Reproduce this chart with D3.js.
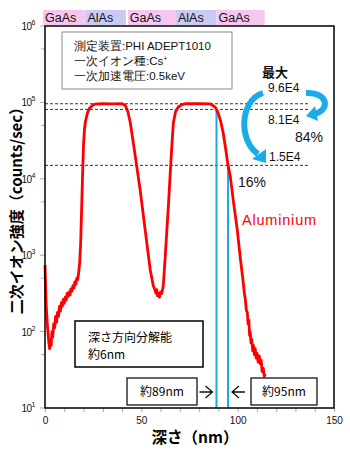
<!DOCTYPE html>
<html>
<head>
<meta charset="utf-8">
<script src="https://cdn.jsdelivr.net/npm/d3@7"></script>
<style>
  html, body { margin: 0; padding: 0; background: #fff; }
  svg { display: block; }
  text { font-family: "Liberation Sans", Arial, sans-serif; }
  .jp { font-family: "Noto Sans CJK JP", sans-serif; }
</style>
</head>
<body>
<div id="chart"></div>
<script>
// Al secondary-ion depth profile of a GaAs/AlAs multilayer
const depth = [
  0, 0.3, 0.6, 1.2, 2.0, 2.4, 2.8, 3.2, 3.6, 4.0, 4.5, 5.0, 5.5, 6.0, 6.5, 7.0, 7.5, 8.0, 8.5, 9.0,
  9.5, 10, 10.5, 11, 11.5, 12, 12.5, 13, 13.5, 14, 14.5, 15, 15.5, 16, 16.5, 17, 17.5, 18, 18.5, 19,
  19.5, 20, 20.5, 21, 22, 23, 24.5, 26, 30, 35, 40, 41.7, 43, 44.3, 46.9, 49.4, 52, 54.6, 56.2, 57,
  57.6, 58, 58.4, 58.8, 59.4, 60, 60.6, 61.4, 62.4, 64, 65.5, 66.6, 67.8, 69.2, 71, 72.8, 80, 85.8,
  87.2, 88.4, 89, 89.9, 91.2, 92.5, 93.6, 95, 96.2, 97.7, 99.8, 101.3, 102.9, 103.5, 104, 104.5, 105,
  105.4, 105.8, 106.2, 106.5, 106.9, 107.3, 107.8, 108.2, 108.7, 109.1, 109.6, 110.1, 110.6, 111.2,
  111.7, 112.2, 112.7, 113.3, 113.8, 114.3
];
const intensity = [
  741, 398, 224, 126, 71, 60, 79, 66, 100, 85, 126, 112, 158, 132, 178, 158, 214, 186, 240, 214,
  263, 234, 282, 257, 316, 288, 331, 302, 363, 339, 398, 372, 447, 417, 501, 479, 603, 794, 1413, 3981,
  11220, 28180, 44670, 56230, 72440, 83180, 91200, 95000, 96000, 95500, 96000, 91200, 75860, 53700, 19500, 7080, 2140, 646, 398, 355,
  316, 355, 295, 316, 282, 331, 316, 398, 955, 4266, 19500, 53700, 75860, 87100, 93300, 96000, 96000, 95500,
  91200, 86100, 81000, 72440, 56230, 39800, 26300, 15000, 10700, 5250, 2140, 955, 437, 316, 263, 191, 178,
  126, 141, 89, 100, 71, 79, 56, 66, 50, 60, 45, 52, 40, 48,
  38, 42, 30, 33, 26, 28
];

// reference levels (counts/sec) and edge positions (nm)
const refLevels = [96000, 81000, 15000];
const refLabels = ["9.6E4", "8.1E4", "1.5E4"];
const edgeDepths = [89, 95];
const edgeLabels = ["約89nm", "約95nm"];

// layer sequence across the top
const layerNames = ["GaAs", "AlAs", "GaAs", "AlAs", "GaAs"];
const layerStart = [-1, 21, 43, 68, 89];
const layerEnd = [21, 42, 68, 89, 114];

const yTickExps = [1, 2, 3, 4, 5, 6];
const xTicks = [0, 50, 100, 150];

const W = 350, H = 450;
const L = 45, R = 334, T = 26, B = 408;

const svg = d3.select("#chart").append("svg").attr("width", W).attr("height", H);

const x = d3.scaleLinear().domain([0, 150]).range([L, R]);
const y = d3.scaleLog().domain([10, 1e6]).range([B, T]);

// layer labels
const layerColor = n => n === "GaAs" ? "#f6c6ee" : "#cacaf3";
const lg = svg.append("g");
layerNames.forEach((n, i) => {
  const x0 = x(layerStart[i]), x1 = x(layerEnd[i]);
  lg.append("rect").attr("x", x0).attr("y", 10).attr("width", x1 - x0).attr("height", 15)
    .attr("fill", layerColor(n));
  lg.append("text").attr("x", x0 + 2).attr("y", 22).attr("font-size", 12.5).attr("fill", "#111").text(n);
});

// x axis
const xAxis = d3.axisBottom(x).tickValues(d3.range(0, 151, 10)).tickSize(4)
  .tickFormat(d => xTicks.includes(d) ? d : "");
const gx = svg.append("g").attr("transform", `translate(0,${B})`).call(xAxis);
gx.select(".domain").remove();
gx.selectAll(".tick line").attr("stroke", "#aaa");
gx.selectAll(".tick text").attr("font-size", 10).attr("dy", "0.9em").attr("fill", "#111")
  .attr("font-family", "Liberation Sans, Arial, sans-serif");

// y axis: decades labelled, half-decade minor ticks
const yMinor = yTickExps.slice(0, -1).map(e => 5 * Math.pow(10, e));
svg.append("g").selectAll("line.minor").data(yMinor).join("line")
  .attr("x1", L - 4).attr("x2", L).attr("y1", d => y(d)).attr("y2", d => y(d)).attr("stroke", "#aaa");
svg.append("g").selectAll("line.major").data(yTickExps).join("line")
  .attr("x1", L - 5).attr("x2", L).attr("y1", d => y(Math.pow(10, d))).attr("y2", d => y(Math.pow(10, d)))
  .attr("stroke", "#aaa");
const yl = svg.append("g").selectAll("text").data(yTickExps).join("text")
  .attr("x", 35).attr("y", d => y(Math.pow(10, d)) + 4).attr("text-anchor", "end")
  .attr("font-size", 10).attr("fill", "#111").attr("letter-spacing", "-0.5");
yl.append("tspan").text("10");
yl.append("tspan").attr("dy", -5).attr("font-size", 7).text(d => d);

// reference dashed lines
svg.append("g").selectAll("line").data(refLevels).join("line")
  .attr("x1", L).attr("x2", 310).attr("y1", d => y(d)).attr("y2", d => y(d))
  .attr("stroke", "#333").attr("stroke-width", 1).attr("stroke-dasharray", "3,2");

// edge markers
svg.append("g").selectAll("line").data(edgeDepths).join("line")
  .attr("x1", d => x(d)).attr("x2", d => x(d))
  .attr("y1", (d, i) => y(refLevels[i + 1])).attr("y2", B)
  .attr("stroke", "#19a8e8").attr("stroke-width", 2);

// profile
const pts = depth.map((d, i) => [d, intensity[i]]);
svg.append("path").datum(pts)
  .attr("fill", "none").attr("stroke", "#ff0000").attr("stroke-width", 2.8).attr("stroke-linejoin", "round")
  .attr("d", d3.line().x(d => x(d[0])).y(d => y(d[1])));

// frame
svg.append("rect").attr("x", L).attr("y", T).attr("width", R - L).attr("height", B - T)
  .attr("fill", "none").attr("stroke", "#000").attr("stroke-width", 1.5);

// measurement conditions box
svg.append("rect").attr("x", 62).attr("y", 32).attr("width", 170).attr("height", 57)
  .attr("fill", "#fff").attr("stroke", "#888").attr("stroke-width", 1);
const cond = svg.append("g").attr("class", "jp").attr("font-size", 11.5).attr("fill", "#111");
cond.append("text").attr("x", 74).attr("y", 50).text("測定装置:PHI ADEPT1010");
const l2 = cond.append("text").attr("x", 74).attr("y", 65);
l2.append("tspan").text("一次イオン種:Cs");
l2.append("tspan").attr("dy", -4).attr("font-size", 7).text("+");
cond.append("text").attr("x", 74).attr("y", 80).text("一次加速電圧:0.5keV");

// depth resolution box
svg.append("rect").attr("x", 75).attr("y", 321).attr("width", 128).attr("height", 46)
  .attr("fill", "#fff").attr("stroke", "#000").attr("stroke-width", 1.5);
svg.append("text").attr("class", "jp").attr("x", 88).attr("y", 342).attr("font-size", 12).text("深さ方向分解能");
svg.append("text").attr("class", "jp").attr("x", 88).attr("y", 359).attr("font-size", 12).text("約6nm");

// edge depth labels
const boxX = [127, 251], boxW = [70, 66];
edgeLabels.forEach((t, i) => {
  svg.append("rect").attr("x", boxX[i]).attr("y", 378).attr("width", boxW[i]).attr("height", 27)
    .attr("fill", "#fff").attr("stroke", "#000").attr("stroke-width", 1.2);
  svg.append("text").attr("class", "jp").attr("x", boxX[i] + boxW[i] / 2).attr("y", 396)
    .attr("text-anchor", "middle").attr("font-size", 12).text(t);
});
// pointer arrows toward the edges
const arrow = (xa, xb) => {
  const dir = Math.sign(xb - xa), yy = 392;
  svg.append("path").attr("fill", "none").attr("stroke", "#111").attr("stroke-width", 1.3)
    .attr("d", `M${xa},${yy}H${xb}M${xb - dir * 7},${yy - 6}L${xb},${yy}L${xb - dir * 7},${yy + 6}`);
};
arrow(x(edgeDepths[0]) - 17, x(edgeDepths[0]) - 4);
arrow(x(edgeDepths[1]) + 17, x(edgeDepths[1]) + 4);

// level annotations
const ann = svg.append("g").attr("fill", "#111");
ann.append("text").attr("class", "jp").attr("x", 262).attr("y", 77).attr("font-size", 13).attr("font-weight", "bold").text("最大");
ann.append("text").attr("x", 268).attr("y", 92).attr("font-size", 12).text(refLabels[0]);
ann.append("text").attr("x", 268).attr("y", 124).attr("font-size", 12).text(refLabels[1]);
ann.append("text").attr("x", 269).attr("y", 161).attr("font-size", 12).text(refLabels[2]);
ann.append("text").attr("x", 295).attr("y", 142).attr("font-size", 14).text("84%");
ann.append("text").attr("x", 238).attr("y", 187).attr("font-size", 14).text("16%");

svg.append("text").attr("x", 242).attr("y", 225).attr("font-size", 14.5).attr("fill", "#ff0000")
  .attr("font-family", "DejaVu Sans Mono, monospace").attr("letter-spacing", "0.8").text("Aluminium");

// curved blue arrows
const blue = "#1aabe9";
svg.append("path").attr("fill", "none").attr("stroke", blue).attr("stroke-width", 6)
  .attr("d", "M263,93 C240,100 238,140 258,154");
svg.append("path").attr("fill", blue).attr("d", "M252,159 L266,149 L266,163 Z");
svg.append("path").attr("fill", "none").attr("stroke", blue).attr("stroke-width", 6)
  .attr("d", "M306,93 C330,92 330,112 313,114");
svg.append("path").attr("fill", blue).attr("d", "M306,116 L315,106 L318,121 Z");

// axis titles
svg.append("text").attr("class", "jp").attr("transform", "translate(22,207) rotate(-90)")
  .attr("text-anchor", "middle").attr("font-size", 15).attr("font-weight", "bold").text("二次イオン強度（counts/sec）");
svg.append("text").attr("class", "jp").attr("x", 195).attr("y", 443).attr("text-anchor", "middle")
  .attr("font-size", 15.5).attr("font-weight", "bold").text("深さ（nm）");
</script>
</body>
</html>
